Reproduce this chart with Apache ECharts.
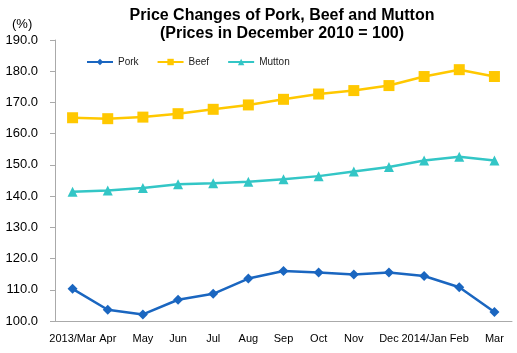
<!DOCTYPE html>
<html>
<head>
<meta charset="utf-8">
<script src="https://cdn.jsdelivr.net/npm/echarts@6/dist/echarts.min.js"></script>
<style>
  html, body { margin: 0; padding: 0; background: #fff; }
  #main { width: 517px; height: 353px; }
</style>
</head>
<body>
<div id="main"></div>
<script>
const months = ['2013/Mar', 'Apr', 'May', 'Jun', 'Jul', 'Aug', 'Sep', 'Oct', 'Nov', 'Dec', '2014/Jan', 'Feb', 'Mar'];
const pork = [110.3, 103.6, 102.1, 106.8, 108.7, 113.6, 116.0, 115.5, 114.9, 115.5, 114.4, 110.8, 102.9];
const beef = [165.1, 164.8, 165.3, 166.4, 167.8, 169.2, 171.0, 172.7, 173.8, 175.4, 178.3, 180.5, 178.3];
const mutton = [141.4, 141.8, 142.6, 143.8, 144.1, 144.6, 145.4, 146.4, 147.9, 149.3, 151.4, 152.6, 151.4];

const font = 'Liberation Sans, Arial, sans-serif';

const chart = echarts.init(document.getElementById('main'));
chart.setOption({
  animation: false,
  title: {
    text: 'Price Changes of Pork, Beef and Mutton\n(Prices in December 2010 = 100)',
    left: 277,
    textAlign: 'center',
    top: 2,
    textStyle: { fontFamily: font, fontSize: 16, fontWeight: 'bold', color: '#000', lineHeight: 18 }
  },
  graphic: [{
    type: 'text', left: 12, top: 18,
    style: { text: '(%)', font: '13px ' + font, fill: '#000' }
  }],
  legend: {
    left: 81, top: 52,
    itemWidth: 26, itemHeight: 8, itemGap: 18,
    textStyle: { fontFamily: font, fontSize: 10, color: '#222' },
    data: ['Pork', 'Beef', 'Mutton']
  },
  grid: { left: 55, right: 5, top: 40, bottom: 32 },
  xAxis: {
    type: 'category',
    data: months,
    boundaryGap: true,
    axisLine: { lineStyle: { color: '#aaa' } },
    axisTick: { show: false },
    axisLabel: { interval: 0, fontFamily: font, fontSize: 11, color: '#000', margin: 12 }
  },
  yAxis: {
    type: 'value',
    min: 100, max: 190, interval: 10,
    splitLine: { show: false },
    axisLine: { show: true, lineStyle: { color: '#aaa' } },
    axisTick: { show: true, length: 5, lineStyle: { color: '#aaa' } },
    axisLabel: { formatter: v => v.toFixed(1), fontFamily: font, fontSize: 13, color: '#000', margin: 17 }
  },
  series: [
    {
      name: 'Pork', type: 'line', data: pork,
      symbol: 'diamond', symbolSize: 10,
      itemStyle: { color: '#1A66C0' }, lineStyle: { width: 2.5, color: '#1A66C0' }
    },
    {
      name: 'Beef', type: 'line', data: beef,
      symbol: 'rect', symbolSize: 11,
      itemStyle: { color: '#FFC800' }, lineStyle: { width: 2.5, color: '#FFC800' }
    },
    {
      name: 'Mutton', type: 'line', data: mutton,
      symbol: 'triangle', symbolSize: 10,
      itemStyle: { color: '#33C6C6' }, lineStyle: { width: 2.5, color: '#33C6C6' }
    }
  ]
});
</script>
</body>
</html>
